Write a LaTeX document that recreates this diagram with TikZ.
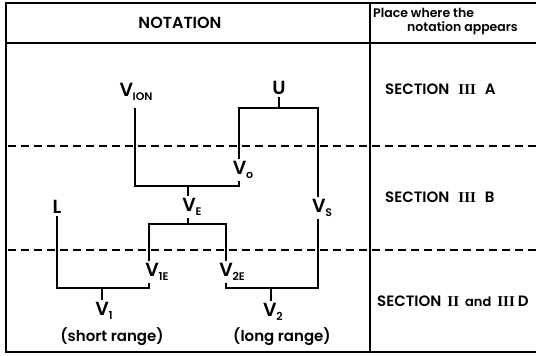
\documentclass[tikz,border=0pt]{standalone}
\usepackage{fontspec}
\newfontfamily\lett{Poppins SemiBold}
\newfontfamily\rom{Liberation Serif}
\newcommand\VV[1]{V\kern-0.3pt\raisebox{-4.5pt}{\fontsize{11}{11}\selectfont #1}}
\newcommand\rn[1]{{\rom\bfseries #1}}
\begin{document}
\begin{tikzpicture}[x=1pt,y=-1pt,
  lab/.style={font=\lett\fontsize{19}{19}\selectfont, inner sep=2pt},
  sec/.style={font=\lett\fontsize{15}{15}\selectfont, inner sep=0pt, anchor=west},
  note/.style={font=\lett\fontsize{15}{15}\selectfont, inner sep=0pt},
  conn/.style={line width=1.1pt},
  frame/.style={line width=1.2pt},
  sep/.style={line width=1.1pt, dash pattern=on 8pt off 5pt}]
\useasboundingbox (0,0) rectangle (536,356);
% frame
\coordinate (tl) at (6,3); \coordinate (tr) at (536,3);
\coordinate (bl) at (6,352); \coordinate (br) at (536,352);
\coordinate (hl) at (6,43); \coordinate (hr) at (536,43);
\coordinate (dt) at (370,3); \coordinate (db) at (370,352);
\draw[frame] (tr) -- (tl) -- (bl) -- (br);
\draw[frame] (hl) -- (hr);
\draw[frame] (dt) -- (db);
\coordinate (a1) at (8,146); \coordinate (a2) at (536,146);
\coordinate (b1) at (8,250); \coordinate (b2) at (536,250);
\draw[sep] (a1) -- (a2);
\draw[sep] (b1) -- (b2);
% headers
\node[note, font=\lett\fontsize{16}{16}\selectfont] (hN) at (180,23) {NOTATION};
\node[note, font=\lett\fontsize{12.5}{12.5}\selectfont, anchor=west] (hP1) at (373,13) {Place where the};
\node[note, font=\lett\fontsize{12.5}{12.5}\selectfont, anchor=west] (hP2) at (407,28) {notation appears};
% sections
\node[sec] (s1) at (385,89) {SECTION\hspace{9pt}\rn{III}\hspace{9pt}A};
\node[sec] (s2) at (385,197) {SECTION\hspace{9pt}\rn{III}\hspace{9pt}B};
\node[sec] (s3) at (377,301) {SECTION\hspace{6pt}\rn{II}\hspace{6pt}{\fontsize{13}{13}\selectfont and}\hspace{6pt}\rn{III}\hspace{3pt}D};
% labels
\node[lab] (VION) at (136,92) {\VV{ION}};
\node[lab] (U) at (279,88) {U};
\node[lab] (V0) at (243,170) {\VV{o}};
\node[lab] (VE) at (192,207) {\VV{E}};
\node[lab] (VS) at (322,208) {\VV{S}};
\node[lab] (L) at (57,207) {L};
\node[lab] (V1E) at (157,272) {\VV{1E}};
\node[lab] (V2E) at (232,272) {\VV{2E}};
\node[lab] (V1) at (104,311) {\VV{1}};
\node[lab] (V2) at (273,312) {\VV{2}};
\node[note] (sr) at (112,337) {(short range)};
\node[note] (lr) at (282,337) {(long range)};
% junctions
\coordinate (uj) at (279,108); \coordinate (ul) at (239,108); \coordinate (ur) at (318,108);
\coordinate (ionT) at (135,108); \coordinate (ionB) at (135,186);
\coordinate (ej) at (188,186); \coordinate (e0) at (239,186);
\coordinate (ek) at (188,224); \coordinate (el) at (149,224); \coordinate (er) at (226,224);
\coordinate (lB) at (57,288); \coordinate (m1) at (149,288); \coordinate (j1) at (102,288);
\coordinate (sB) at (318,288); \coordinate (m2) at (226,288); \coordinate (j2) at (271,288);
% connectors
\draw[conn] (U.south -| uj) -- (uj);
\draw[conn] (V0.north -| ul) -- (ul) -- (ur) -- (VS.north -| ur);
\draw[conn] (ionT) -- (ionB) -- (e0) -- (V0.south -| e0);
\draw[conn] (ej) -- (VE.north -| ej);
\draw[conn] (VE.south -| ek) -- (ek);
\draw[conn] (V1E.north -| el) -- (el) -- (er) -- (V2E.north -| er);
\draw[conn] (L.south -| lB) -- (lB) -- (m1) -- (V1E.south -| m1);
\draw[conn] (VS.south -| sB) -- (sB) -- (m2) -- (V2E.south -| m2);
\draw[conn] (j1) -- (V1.north -| j1);
\draw[conn] (j2) -- (V2.north -| j2);
\end{tikzpicture}
\end{document}
